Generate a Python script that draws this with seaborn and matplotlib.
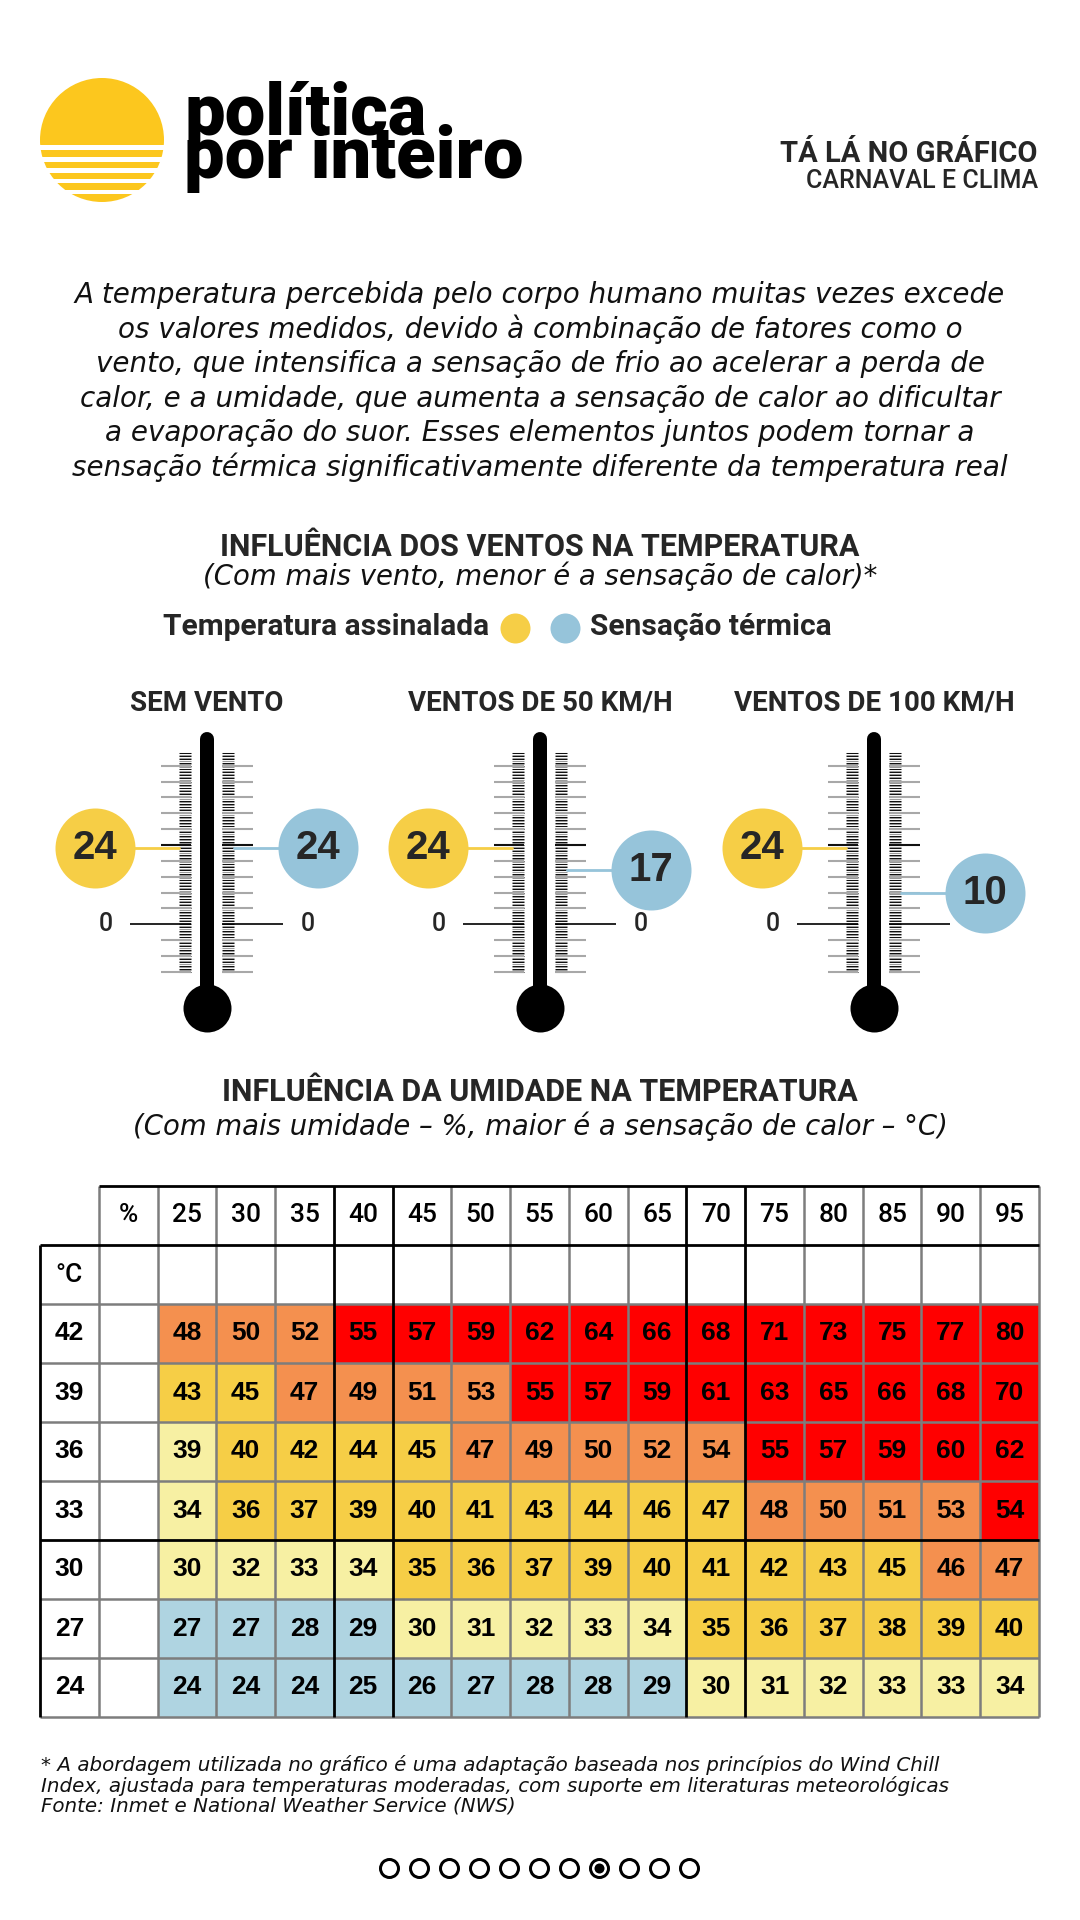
import numpy as np
import pandas as pd
import matplotlib
matplotlib.use("Agg")
import matplotlib.pyplot as plt
import seaborn as sns
from matplotlib.colors import ListedColormap
from matplotlib.patches import Circle, Rectangle

# ---------------- DATA ----------------
wind_titles = ["SEM VENTO", "VENTOS DE 50 KM/H", "VENTOS DE 100 KM/H"]
measured_temp = [24, 24, 24]
feels_like = [24, 17, 10]

humidity = [25, 30, 35, 40, 45, 50, 55, 60, 65, 70, 75, 80, 85, 90, 95]
temps = [42, 39, 36, 33, 30, 27, 24]

hi_42 = [48, 50, 52, 55, 57, 59, 62, 64, 66, 68, 71, 73, 75, 77, 80]
hi_39 = [43, 45, 47, 49, 51, 53, 55, 57, 59, 61, 63, 65, 66, 68, 70]
hi_36 = [39, 40, 42, 44, 45, 47, 49, 50, 52, 54, 55, 57, 59, 60, 62]
hi_33 = [34, 36, 37, 39, 40, 41, 43, 44, 46, 47, 48, 50, 51, 53, 54]
hi_30 = [30, 32, 33, 34, 35, 36, 37, 39, 40, 41, 42, 43, 45, 46, 47]
hi_27 = [27, 27, 28, 29, 30, 31, 32, 33, 34, 35, 36, 37, 38, 39, 40]
hi_24 = [24, 24, 24, 25, 26, 27, 28, 28, 29, 30, 31, 32, 33, 33, 34]

# colour class: 1 blue, 2 pale yellow, 3 yellow, 4 orange, 5 red
cls_42 = [4, 4, 4, 5, 5, 5, 5, 5, 5, 5, 5, 5, 5, 5, 5]
cls_39 = [3, 3, 4, 4, 4, 4, 5, 5, 5, 5, 5, 5, 5, 5, 5]
cls_36 = [2, 3, 3, 3, 3, 4, 4, 4, 4, 4, 5, 5, 5, 5, 5]
cls_33 = [2, 3, 3, 3, 3, 3, 3, 3, 3, 3, 4, 4, 4, 4, 5]
cls_30 = [2, 2, 2, 2, 3, 3, 3, 3, 3, 3, 3, 3, 3, 4, 4]
cls_27 = [1, 1, 1, 1, 2, 2, 2, 2, 2, 3, 3, 3, 3, 3, 3]
cls_24 = [1, 1, 1, 1, 1, 1, 1, 1, 1, 2, 2, 2, 2, 2, 2]

paragraph = [
    "A temperatura percebida pelo corpo humano muitas vezes excede",
    "os valores medidos, devido à combinação de fatores como o",
    "vento, que intensifica a sensação de frio ao acelerar a perda de",
    "calor, e a umidade, que aumenta a sensação de calor ao dificultar",
    "a evaporação do suor. Esses elementos juntos podem tornar a",
    "sensação térmica significativamente diferente da temperatura real",
]
footer = [
    "* A abordagem utilizada no gráfico é uma adaptação baseada nos princípios do Wind Chill",
    "Index, ajustada para temperaturas moderadas, com suporte em literaturas meteorológicas",
    "Fonte: Inmet e National Weather Service (NWS)",
]
n_pages = 11
active_page = 7

# ---------------- STYLE ----------------
sns.set_theme(style="white")
plt.rcParams["font.family"] = ["DejaVu Sans"]

W, H = 1080, 1920
PT = 0.72  # points per pixel at dpi 100
YEL = "#F6CE46"
BLU = "#96C4DA"
LOGO_Y = "#FCC71E"
cls_colors = ["#FFFFFF", "#AFD4E1", "#F7F0A3", "#F6CE46", "#F4904F", "#FF0000"]
HEAD = "Roboto"
NUM = "Liberation Sans"
ITAL = "DejaVu Sans"

fig = plt.figure(figsize=(W / 100, H / 100), dpi=100, facecolor="white")
bg = fig.add_axes([0, 0, 1, 1])
bg.set_xlim(0, W)
bg.set_ylim(H, 0)
bg.axis("off")

# ---------------- LOGO / HEADER ----------------
bg.add_patch(Circle((102, 140), 62, color=LOGO_Y, lw=0))
for y0, y1 in [(145, 150), (156.7, 161.7), (168.3, 172.7), (179.3, 183.3), (190, 194)]:
    bg.add_patch(Rectangle((30, y0), 150, y1 - y0, color="white", lw=0))
bg.text(184, 178, "política\npor inteiro", family=HEAD, fontweight="black", fontsize=52,
        va="baseline", ha="left", color="black", linespacing=0.52)
bg.text(1038, 162, "TÁ LÁ NO GRÁFICO", family=HEAD, fontweight="bold", fontsize=21,
        ha="right", va="baseline")
bg.text(1038, 188, "CARNAVAL E CLIMA", family=HEAD, fontweight="medium", fontsize=18,
        ha="right", va="baseline")

for i, line in enumerate(paragraph):
    bg.text(540, 303 + 34.6 * i, line, family=ITAL, fontstyle="italic", fontweight="light",
            fontsize=20, ha="center", va="baseline", color="#111111")

# ---------------- WIND SECTION ----------------
bg.text(540, 556, "INFLUÊNCIA DOS VENTOS NA TEMPERATURA", family=HEAD, fontweight="bold",
        fontsize=22, ha="center", va="baseline")
bg.text(540, 585, "(Com mais vento, menor é a sensação de calor)*", family=ITAL,
        fontstyle="italic", fontsize=19.8, ha="center", va="baseline", color="#111111")
bg.text(489, 635, "Temperatura assinalada", family=HEAD, fontweight="bold", fontsize=21.5,
        ha="right", va="baseline")
bg.text(590, 635, "Sensação térmica", family=HEAD, fontweight="bold", fontsize=21.5,
        ha="left", va="baseline")
bg.scatter([515], [628], s=(30 * PT) ** 2, color=YEL, linewidths=0)
bg.scatter([565], [628], s=(30 * PT) ** 2, color=BLU, linewidths=0)

ZERO_PX, PPD = 924.3, 3.17
TOP_PX, BOT_PX = 715, 1040


def deg(px):
    return (ZERO_PX - px) / PPD


therm_cx = [207, 540, 874]
minor = np.arange(-15, 54.01, 0.5)
major = np.arange(-15, 50.01, 5)
major = major[major != 0]

for cx, title, mt, fl in zip(therm_cx, wind_titles, measured_temp, feels_like):
    bg.text(cx, 711, title, family=HEAD, fontweight="bold", fontsize=20,
            ha="center", va="baseline")
    ax = fig.add_axes([(cx - 160) / W, 1 - BOT_PX / H, 320 / W, (BOT_PX - TOP_PX) / H])
    ax.set_xlim(-160, 160)
    ax.set_ylim(deg(BOT_PX), deg(TOP_PX))
    ax.axis("off")
    mcol = ["#111111" if float(v).is_integer() else "#9a9a9a" for v in minor]
    ax.hlines(minor, -28, -16, colors=mcol, lw=0.75)
    ax.hlines(minor, 15, 27, colors=mcol, lw=0.75)
    jcol = ["#111111" if v == 25 else "#a8a8a8" for v in major]
    ax.hlines(major, -46, -16, colors=jcol, lw=1.5)
    ax.hlines(major, 15, 46, colors=jcol, lw=1.5)
    ax.hlines([0], -77, -16, colors="black", lw=1.2)
    ax.hlines([0], 15, 76, colors="black", lw=1.2)
    ax.text(-101, 0, "0", family=HEAD, fontweight="medium", fontsize=18,
            ha="center", va="center")
    ax.text(101, 0, "0", family=HEAD, fontweight="medium", fontsize=18,
            ha="center", va="center")
    # tube and bulb
    ax.plot([0, 0], [deg(739), deg(1008)], color="black", lw=14 * PT,
            solid_capstyle="round", zorder=3)
    ax.scatter([0], [deg(1008)], s=(48 * PT) ** 2, color="black", linewidths=0, zorder=3)
    # markers
    ax.plot([-112, -28], [mt, mt], color=YEL, lw=2.8 * PT, zorder=2)
    ax.plot([27, 111], [fl, fl], color=BLU, lw=2.8 * PT, zorder=2)
    ax.scatter([-112], [mt], s=(80 * PT) ** 2, color=YEL, linewidths=0, zorder=5)
    ax.scatter([111], [fl], s=(80 * PT) ** 2, color=BLU, linewidths=0, zorder=5)
    ax.text(-112, mt, str(mt), family=NUM, fontweight="bold", fontsize=29,
            ha="center", va="center", zorder=6)
    ax.text(111, fl, str(fl), family=NUM, fontweight="bold", fontsize=29,
            ha="center", va="center", zorder=6)

# ---------------- HUMIDITY TABLE ----------------
bg.text(540, 1101, "INFLUÊNCIA DA UMIDADE NA TEMPERATURA", family=HEAD, fontweight="bold",
        fontsize=22, ha="center", va="baseline")
bg.text(540, 1135, "(Com mais umidade – %, maior é a sensação de calor – °C)", family=ITAL,
        fontstyle="italic", fontsize=19.8, ha="center", va="baseline", color="#111111")

hi_rows = [hi_42, hi_39, hi_36, hi_33, hi_30, hi_27, hi_24]
cls_rows = [cls_42, cls_39, cls_36, cls_33, cls_30, cls_27, cls_24]
nr, nc = len(temps) + 2, len(humidity) + 2
codes = np.zeros((nr, nc))
labels = np.full((nr, nc), "", dtype=object)
mask = np.zeros((nr, nc), dtype=bool)
mask[0, 0] = True
labels[0, 1] = "%"
labels[0, 2:] = [str(h) for h in humidity]
labels[1, 0] = "°C"
for i, (t, vals, cl) in enumerate(zip(temps, hi_rows, cls_rows)):
    labels[i + 2, 0] = str(t)
    labels[i + 2, 2:] = [str(v) for v in vals]
    codes[i + 2, 2:] = cl
df = pd.DataFrame(codes)

T_LEFT, T_RIGHT, T_TOP, T_BOT = 40, 1039, 1186, 1717
hm = fig.add_axes([T_LEFT / W, 1 - T_BOT / H, (T_RIGHT - T_LEFT) / W, (T_BOT - T_TOP) / H])
sns.heatmap(df, mask=mask, cmap=ListedColormap(cls_colors), vmin=-0.5, vmax=5.5,
            annot=labels, fmt="", cbar=False, linewidths=0, ax=hm,
            annot_kws=dict(color="black", fontsize=19, fontweight="bold", family=NUM))
hm.set_xticks([])
hm.set_yticks([])
hm.set_xlabel("")
hm.set_ylabel("")
for s in hm.spines.values():
    s.set_visible(False)
for t in hm.texts:
    x, y = t.get_position()
    if y < 1 or (y < 2 and x < 1):
        t.set_fontweight("medium")
        t.set_family(HEAD)
        t.set_fontsize(19)

GRAY, LWG, LWB = "#7d7d7d", 1.8, 2.0
black_v = [0, 5, 6, 11, 12]
black_h = [0, 1, 6]
for y in range(nr + 1):
    if y not in black_h:
        hm.hlines(y, 0, nc, colors=GRAY, lw=LWG, clip_on=False)
for x in range(nc + 1):
    if x not in black_v:
        hm.vlines(x, 0, nr, colors=GRAY, lw=LWG, clip_on=False)
for x in black_v:
    y0 = 1 if x == 0 else 0
    hm.vlines(x, y0, nr, colors="black", lw=LWB, clip_on=False)
for y in black_h:
    x0 = 1 if y == 0 else 0
    hm.hlines(y, x0, nc, colors="black", lw=LWB, clip_on=False)

# ---------------- FOOTER ----------------
for i, line in enumerate(footer):
    bg.text(41, 1771 + 20.5 * i, line, family=ITAL, fontstyle="italic", fontsize=14.3,
            ha="left", va="baseline", color="#111111")

px = [389 + 30 * i for i in range(n_pages)]
bg.scatter(px, [1868] * n_pages, s=(18 * PT) ** 2, facecolors="white",
           edgecolors="black", linewidths=3 * PT, zorder=3)
bg.scatter([px[active_page]], [1868], s=(10 * PT) ** 2, color="black", linewidths=0, zorder=4)

fig.savefig("out.png", dpi=100, facecolor="white")
